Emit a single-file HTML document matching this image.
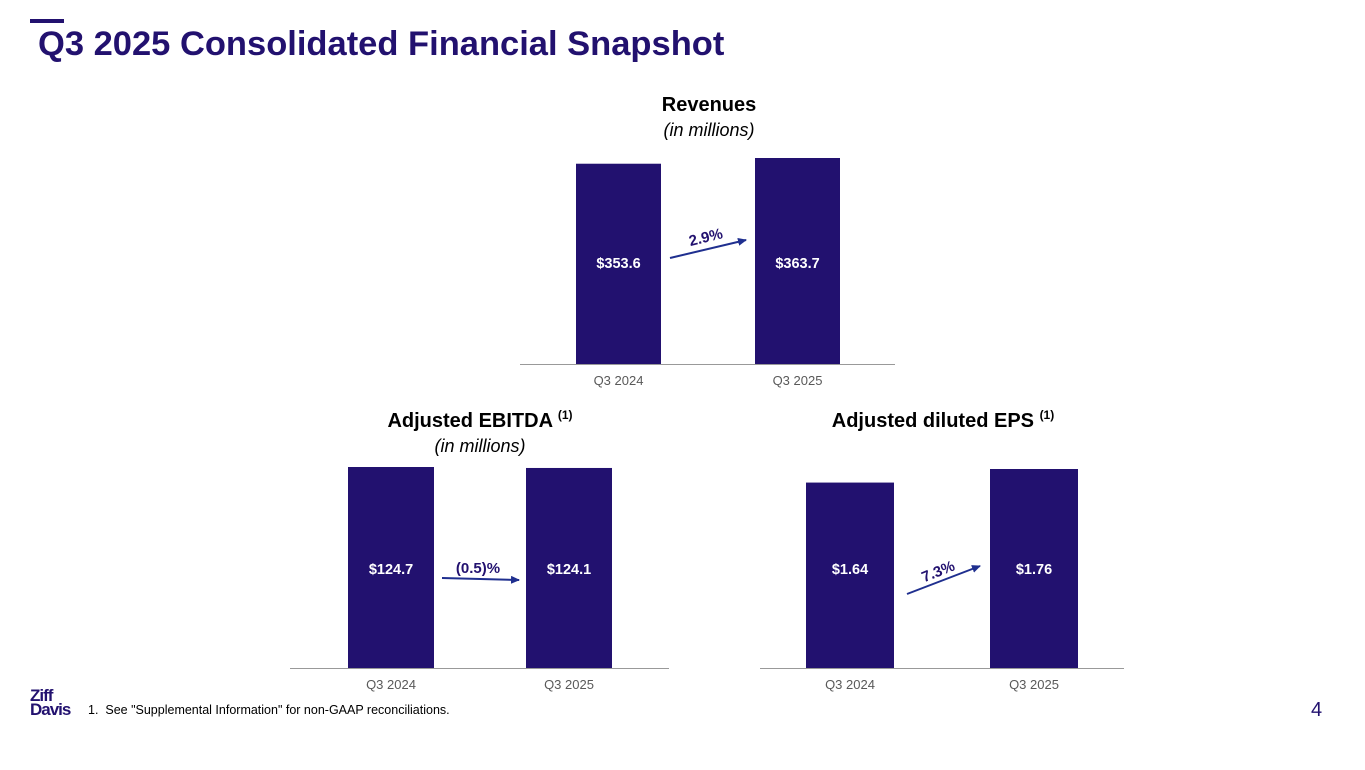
<!DOCTYPE html>
<html><head><meta charset="utf-8"><style>
body{margin:0;width:1365px;height:770px;background:#fff;font-family:"Liberation Sans",Arial,sans-serif;overflow:hidden;position:relative}
.abs{position:absolute}
</style></head><body>
<div class="abs" style="left:30px;top:19px;width:34px;height:4px;background:#22116f"></div>
<div class="abs" style="left:38px;top:25px;font-size:34.5px;font-weight:bold;color:#22116f;white-space:nowrap">Q3 2025 Consolidated Financial Snapshot</div>
<svg class="abs" style="left:0;top:0" width="1365" height="770" id="chart"></svg>
<div class="abs" style="left:30px;top:689px;font-size:17px;font-weight:bold;color:#22116f;line-height:14px;letter-spacing:-1px">Ziff<br>Davis</div>
<div class="abs" style="left:88px;top:703px;font-size:12.5px;color:#000;white-space:nowrap">1.&nbsp;&nbsp;See "Supplemental Information" for non-GAAP reconciliations.</div>
<div class="abs" style="left:1311px;top:699px;font-size:20px;color:#22116f">4</div>
<script>
const categories=["Q3 2024","Q3 2025"];
const revenueValues=[353.6,363.7];
const revenueLabels=["$353.6","$363.7"];
const revenueChange="2.9%";
const ebitdaValues=[124.7,124.1];
const ebitdaLabels=["$124.7","$124.1"];
const ebitdaChange="(0.5)%";
const epsValues=[1.64,1.76];
const epsLabels=["$1.64","$1.76"];
const epsChange="7.3%";
const NS="http://www.w3.org/2000/svg";
const svg=document.getElementById('chart');
function mk(tag,attrs,parent){const e=document.createElementNS(NS,tag);for(const k in attrs)e.setAttribute(k,attrs[k]);(parent||svg).appendChild(e);return e;}
mk('defs',{}).innerHTML='<marker id="ah" markerUnits="userSpaceOnUse" markerWidth="9" markerHeight="8" refX="8" refY="4" orient="auto"><path d="M0,0 L9,4 L0,8 z" fill="#1f2f8f"/></marker>';
function chart(name,cfg,vals,labels,change){
  const g=mk('g',{});
  
  
  const maxV=Math.max(...vals);
  const y=v=>cfg.base-v/maxV*cfg.maxH;
  const ax=mk('line',{x1:cfg.ax0,x2:cfg.ax1,y1:cfg.base+0.5,y2:cfg.base+0.5,stroke:'#999','stroke-width':1},g);
  
  
  vals.forEach((v,i)=>{
    const x=cfg.bx[i];
    const r=mk('rect',{x:x,y:y(v),width:cfg.bw,height:cfg.base-y(v),fill:'#22116f'},g);
    
    
    const t=mk('text',{x:x+cfg.bw/2,y:cfg.valY,'text-anchor':'middle','font-size':14.5,'font-weight':'bold',fill:'#fff'},g);
    t.textContent=labels[i];
    
    
    const c=mk('text',{x:x+cfg.bw/2,y:cfg.base+21,'text-anchor':'middle','font-size':13,fill:'#595959'},g);
    c.textContent=categories[i];
    
    
  });
  const a=cfg.arrow;
  const ar=mk('line',{x1:a[0],y1:a[1],x2:a[2],y2:a[3],stroke:'#1f2f8f','stroke-width':2,'marker-end':'url(#ah)'},g);
  
  
  const ang=cfg.rot;
  const ct=mk('text',{x:cfg.lbl[0],y:cfg.lbl[1],'text-anchor':'middle','font-size':15,'font-weight':'bold',fill:'#22116f',transform:`rotate(${ang} ${cfg.lbl[0]} ${cfg.lbl[1]})`},g);
  ct.textContent=change;
  
  
  const ti=mk('text',{x:cfg.tx,y:cfg.ty,'text-anchor':'middle','font-size':20,'font-weight':'bold',fill:'#000'},g);
  ti.innerHTML=cfg.title;
  
  
  if(cfg.sub){const s=mk('text',{x:cfg.tx,y:cfg.ty+25,'text-anchor':'middle','font-size':18,'font-style':'italic',fill:'#000'},g);
  s.textContent='(in millions)';
  
  }
}
chart('revenue-chart',{base:364,maxH:206,ax0:520,ax1:895,bx:[576,755],bw:85,valY:268,arrow:[670,258,746,240],lbl:[707,242],rot:-14,tx:709,ty:111,title:'Revenues',sub:true},revenueValues,revenueLabels,revenueChange);
chart('ebitda-chart',{base:668,maxH:201,ax0:290,ax1:669,bx:[348,526],bw:86,valY:574,arrow:[442,578,519,580],lbl:[478,573],rot:0,tx:480,ty:427,title:'Adjusted EBITDA <tspan font-size="12" dy="-8">(1)</tspan>',sub:true},ebitdaValues,ebitdaLabels,ebitdaChange);
chart('eps-chart',{base:668,maxH:199,ax0:760,ax1:1124,bx:[806,990],bw:88,valY:574,arrow:[907,594,980,566],lbl:[940,576],rot:-22,tx:943,ty:427,title:'Adjusted diluted EPS <tspan font-size="12" dy="-8">(1)</tspan>',sub:false},epsValues,epsLabels,epsChange);
</script>
</body></html>
